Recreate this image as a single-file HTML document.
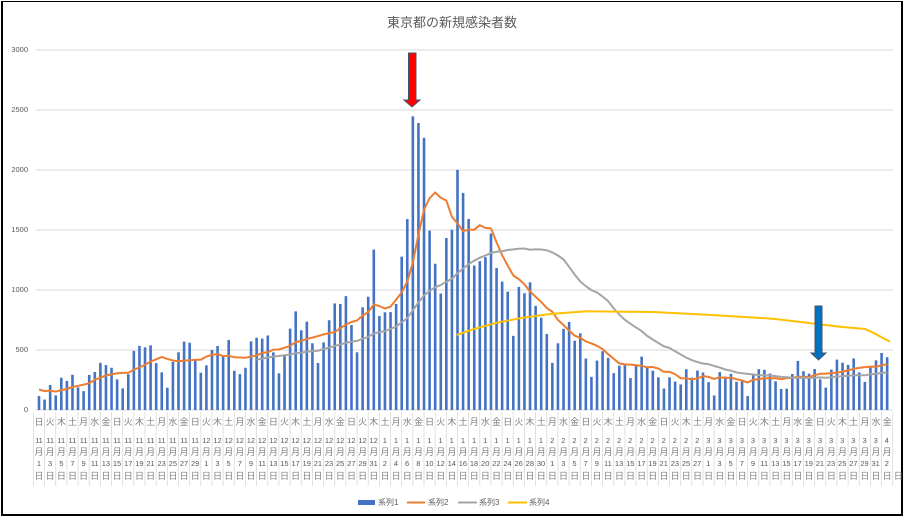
<!DOCTYPE html>
<html><head><meta charset="utf-8"><style>
body{margin:0;background:#fff;}
#c{position:relative;width:904px;height:520px;overflow:hidden;font-family:"Liberation Sans","Noto Sans CJK JP",sans-serif;color:#595959;}
#frame{position:absolute;left:1px;top:1px;width:898px;height:512px;border:2px solid #000;border-top-width:1px;border-left-width:2px;}
.t{position:absolute;left:0;width:904px;top:12px;text-align:center;font-size:13px;color:#595959;}
.row{position:absolute;left:33.4px;display:flex;}
.row i{font-style:normal;display:block;width:11.16px;text-align:center;font-size:7.5px;line-height:10px;}
.cj{position:absolute;left:34.5px;font-size:9px;letter-spacing:2.16px;white-space:nowrap;line-height:10px;font-family:"Noto Sans CJK JP",sans-serif;color:#7f7f7f;}
.yl{position:absolute;left:0;width:28px;text-align:right;font-size:7.5px;}
.lg{position:absolute;top:497px;font-size:8px;}
</style></head><body><div id="c">
<div id="frame"></div>
<div class="t">東京都の新規感染者数</div>
<svg id="s" width="904" height="520" style="position:absolute;left:0;top:0"></svg>
<div class="yl" style="top:45px">3000</div>
<div class="yl" style="top:105px">2500</div>
<div class="yl" style="top:165px">2000</div>
<div class="yl" style="top:225px">1500</div>
<div class="yl" style="top:285px">1000</div>
<div class="yl" style="top:345px">500</div>
<div class="yl" style="top:405px">0</div>
<div class="cj" style="top:417px">日火木土月水金日火木土月水金日火木土月水金日火木土月水金日火木土月水金日火木土月水金日火木土月水金日火木土月水金日火木土月水金日火木土月水金日火木土月水金</div>
<div class="row" style="top:436px"><i>11</i><i>11</i><i>11</i><i>11</i><i>11</i><i>11</i><i>11</i><i>11</i><i>11</i><i>11</i><i>11</i><i>11</i><i>11</i><i>11</i><i>11</i><i>12</i><i>12</i><i>12</i><i>12</i><i>12</i><i>12</i><i>12</i><i>12</i><i>12</i><i>12</i><i>12</i><i>12</i><i>12</i><i>12</i><i>12</i><i>12</i><i>1</i><i>1</i><i>1</i><i>1</i><i>1</i><i>1</i><i>1</i><i>1</i><i>1</i><i>1</i><i>1</i><i>1</i><i>1</i><i>1</i><i>1</i><i>2</i><i>2</i><i>2</i><i>2</i><i>2</i><i>2</i><i>2</i><i>2</i><i>2</i><i>2</i><i>2</i><i>2</i><i>2</i><i>2</i><i>3</i><i>3</i><i>3</i><i>3</i><i>3</i><i>3</i><i>3</i><i>3</i><i>3</i><i>3</i><i>3</i><i>3</i><i>3</i><i>3</i><i>3</i><i>3</i><i>4</i></div>
<div class="cj" style="top:447px">月月月月月月月月月月月月月月月月月月月月月月月月月月月月月月月月月月月月月月月月月月月月月月月月月月月月月月月月月月月月月月月月月月月月月月月月月月月月月</div>
<div class="row" style="top:459px"><i>1</i><i>3</i><i>5</i><i>7</i><i>9</i><i>11</i><i>13</i><i>15</i><i>17</i><i>19</i><i>21</i><i>23</i><i>25</i><i>27</i><i>29</i><i>1</i><i>3</i><i>5</i><i>7</i><i>9</i><i>11</i><i>13</i><i>15</i><i>17</i><i>19</i><i>21</i><i>23</i><i>25</i><i>27</i><i>29</i><i>31</i><i>2</i><i>4</i><i>6</i><i>8</i><i>10</i><i>12</i><i>14</i><i>16</i><i>18</i><i>20</i><i>22</i><i>24</i><i>26</i><i>28</i><i>30</i><i>1</i><i>3</i><i>5</i><i>7</i><i>9</i><i>11</i><i>13</i><i>15</i><i>17</i><i>19</i><i>21</i><i>23</i><i>25</i><i>27</i><i>1</i><i>3</i><i>5</i><i>7</i><i>9</i><i>11</i><i>13</i><i>15</i><i>17</i><i>19</i><i>21</i><i>23</i><i>25</i><i>27</i><i>29</i><i>31</i><i>2</i></div>
<div class="cj" style="top:471px">日日日日日日日日日日日日日日日日日日日日日日日日日日日日日日日日日日日日日日日日日日日日日日日日日日日日日日日日日日日日日日日日日日日日日日日日日日日日日日</div>
<div class="lg" style="left:378px">系列1</div>
<div class="lg" style="left:428px">系列2</div>
<div class="lg" style="left:479px">系列3</div>
<div class="lg" style="left:529px">系列4</div>
</div>
<script>
var d=[116,87,209,122,269,242,294,189,157,293,317,393,374,352,255,180,298,493,534,522,539,391,314,186,401,481,570,561,418,311,
372,500,533,449,584,327,299,352,572,602,595,621,480,305,460,678,822,664,736,556,392,563,748,888,884,949,708,481,856,944,1337,
783,814,816,884,1278,1591,2447,2392,2268,1494,1219,970,1433,1502,2001,1809,1592,1204,1240,1274,1471,1184,1070,986,618,1026,973,1064,868,769,633,
393,556,676,734,577,639,429,276,412,490,434,307,369,371,266,378,445,353,328,272,179,272,237,213,340,270,329,312,
232,121,316,279,301,235,237,116,290,340,335,304,239,175,178,300,409,323,303,342,256,187,337,420,394,376,430,313,234,364,414,
475,440];
var ns="http://www.w3.org/2000/svg",s=document.getElementById('s');
function X(i){return 39+i*5.58}function Y(v){return 410-v*0.12}
function el(t,a){var e=document.createElementNS(ns,t);for(var k in a)e.setAttribute(k,a[k]);s.appendChild(e);return e}
for(var v=500;v<=3000;v+=500)el('line',{x1:36,x2:893,y1:Y(v),y2:Y(v),stroke:'#d9d9d9','stroke-width':1});
el('line',{x1:36,x2:893,y1:410,y2:410,stroke:'#d9d9d9'});
for(var k=0;k<=77;k++){var x=33.4+k*11.16;el('line',{x1:x,x2:x,y1:412,y2:486,stroke:'#d9d9d9','stroke-width':0.8});}
d.forEach(function(v,i){el('rect',{x:X(i)-1.3,y:Y(v),width:2.6,height:v*0.12,fill:'#4472C4'})});
var pre=[180,180,180,180,180,180],all=pre.concat(d);
function avg(n,from,pad){var p=[];for(var i=from;i<d.length;i++){var sm=0,c=0;for(var j=i+pad-n+1;j<=i+pad;j++){if(j>=0){sm+=all[j];c++;}}p.push(X(i).toFixed(1)+','+Y(sm/c).toFixed(1));}return p.join(' ')}
el('polyline',{points:avg(7,0,6),fill:'none',stroke:'#ED7D31','stroke-width':2});
el('polyline',{points:avg(28,39,6),fill:'none',stroke:'#A5A5A5','stroke-width':2});
el('polyline',{points:'456.7,335 473,329.3 497,322.7 523,317.7 550,314 587,311.3 653,312 707,314.7 773,318.7 807,322.7 840,326.7 865,329 873,332.7 890,341.7',fill:'none',stroke:'#FFC000','stroke-width':2});
el('rect',{x:358,y:500,width:17,height:5,fill:'#4472C4'});
el('line',{x1:407,x2:425,y1:502.5,y2:502.5,stroke:'#ED7D31','stroke-width':2});
el('line',{x1:458,x2:477,y1:502.5,y2:502.5,stroke:'#A5A5A5','stroke-width':2});
el('line',{x1:508,x2:527,y1:502.5,y2:502.5,stroke:'#FFC000','stroke-width':2});
el('polygon',{points:'408.5,53 416,53 416,100 420,100 412,107 404,100 408.5,100',fill:'#f00',stroke:'#44546a','stroke-width':1});
el('polygon',{points:'815,306 822,306 822,353 826,353 818.5,360 811,353 815,353',fill:'#0070C0',stroke:'#44546a','stroke-width':1});
</script>
</body></html>
